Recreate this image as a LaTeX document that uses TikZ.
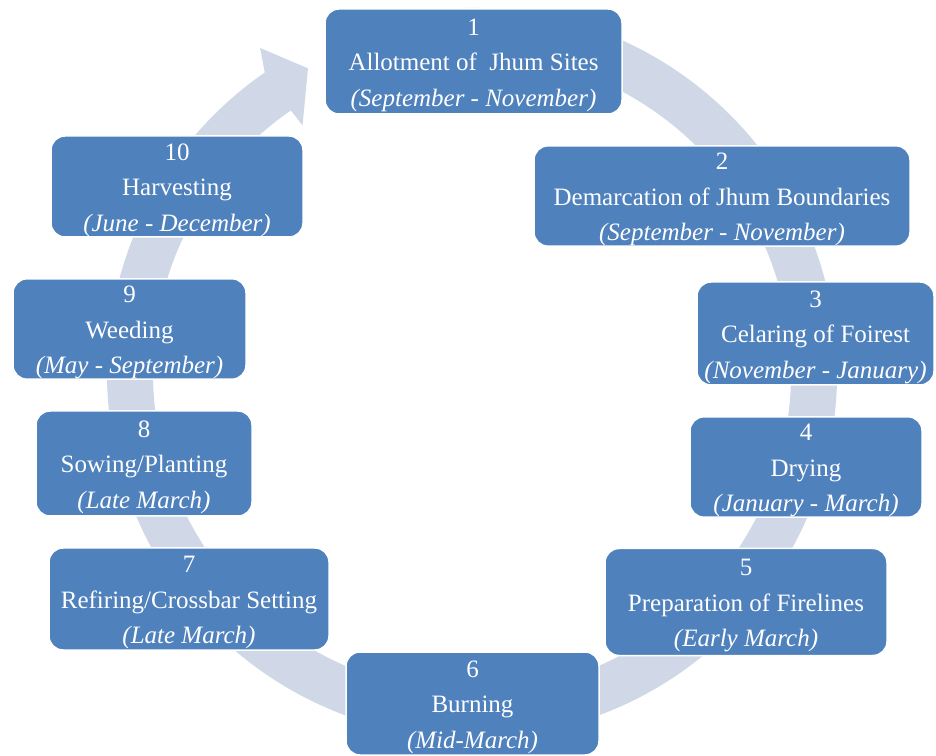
\documentclass[tikz,border=0pt]{standalone}
\usepackage{fontspec}
\setmainfont{Liberation Serif}
\usetikzlibrary{calc}
\definecolor{boxblue}{RGB}{79,129,189}
\definecolor{ringblue}{RGB}{208,216,232}
\newcommand\stepno[1]{\rule{0pt}{24pt}#1}
\begin{document}
\begin{tikzpicture}[x=1pt,y=1pt,
                    stage/.style={draw=white,line width=1.5pt,fill=boxblue,rounded corners=14pt,
                                  text=white,align=center,inner sep=0pt,
                                  font=\fontsize{25}{35.5}\selectfont},
                    ring/.style={ringblue,line width=46pt}]
\useasboundingbox (0,0) rectangle (936,755);
\coordinate (c) at (472,382);
\draw [ring] ($(c)+(100:342)$) arc [start angle=100,end angle=-235.5,radius=342];
\fill [ringblue] ($(c)+(123.1:388)$) -- ($(c)+(118.3:346)$) -- ($(c)+(124.4:300)$)
      -- ($(c)+(124.6:319)$) -- ($(c)+(124.6:365)$) -- cycle;
\node [stage,minimum width=297,minimum height=105] (s1) at (473.5,693.5)
      {\stepno{1}\\Allotment of\ \ Jhum Sites\\\textit{(September - November)}};
\node [stage,minimum width=376,minimum height=100] (s2) at (722,559)
      {\stepno{2}\\Demarcation of Jhum Boundaries\\\textit{(September - November)}};
\node [stage,minimum width=237,minimum height=103] (s3) at (815.5,421.5)
      {\stepno{3}\\Celaring of Foirest\\\textit{(November - January)}};
\node [stage,minimum width=232,minimum height=95] (s4) at (806,288)
      {\stepno{4}\\Drying\\\textit{(January - March)}};
\node [stage,minimum width=282,minimum height=107] (s5) at (746,153)
      {\stepno{5}\\Preparation of Firelines\\\textit{(Early March)}};
\node [stage,minimum width=253,minimum height=103] (s6) at (472.5,51.5)
      {\stepno{6}\\Burning\\\textit{(Mid-March)}};
\node [stage,minimum width=280,minimum height=102] (s7) at (189,156)
      {\stepno{7}\\Refiring/Crossbar Setting\\\textit{(Late March)}};
\node [stage,minimum width=216,minimum height=105] (s8) at (144,291.5)
      {\stepno{8}\\Sowing/Planting\\\textit{(Late March)}};
\node [stage,minimum width=233,minimum height=96] (s9) at (129.5,426)
      {\stepno{9}\\Weeding\\\textit{(May - September)}};
\node [stage,minimum width=252,minimum height=101] (s10) at (177,568.5)
      {\stepno{10}\\Harvesting\\\textit{(June - December)}};
\end{tikzpicture}
\end{document}
